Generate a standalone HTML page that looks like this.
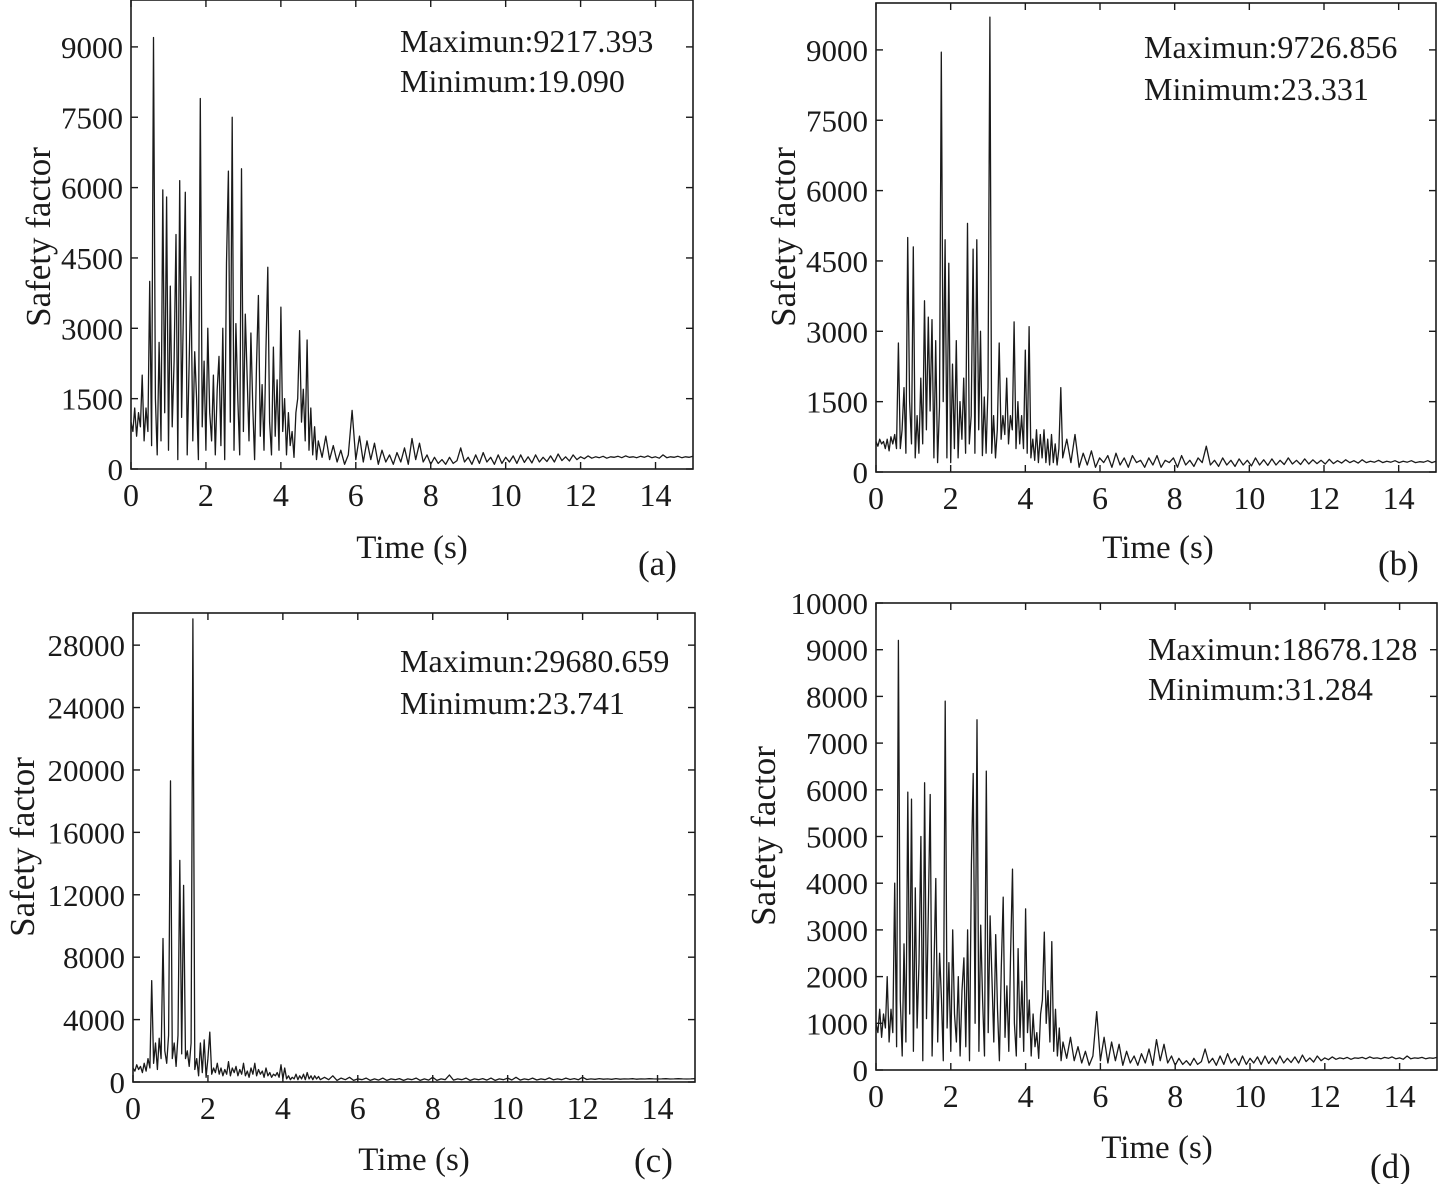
<!DOCTYPE html>
<html><head><meta charset="utf-8"><style>
body{margin:0;background:#fff}
svg{display:block}
text{font-family:"Liberation Serif",serif;fill:#1a1a1a}
</style></head><body>
<svg id="fig" width="1440" height="1184" viewBox="0 0 1440 1184"></svg>
<script>
// First 101 values: time 0..5 s at 0.05 s; remaining values spread evenly over 5..15 s
const valuesA = [1000,800,1300,700,1200,900,2000,600,1300,800,4000,500,9200,1500,300,2700,600,5950,1200,5800,400,3900,900,2300,5000,200,6150,1100,3500,5900,300,2200,4100,600,2500,1500,200,7900,900,2300,400,3000,1200,600,2000,300,1700,2400,500,3000,200,4400,6350,1000,7500,400,3100,1500,300,6400,800,3300,2000,600,2900,1300,200,2200,3700,700,1800,400,2500,4300,1000,300,2600,700,1900,400,3450,800,1500,300,1200,500,800,250,1200,1500,2950,1000,1700,600,2750,400,1300,300,900,200,600,
250,700,200,500,150,400,100,300,1250,200,700,150,600,200,550,100,400,150,300,100,350,150,450,100,650,200,550,150,300,100,250,120,200,100,250,120,180,450,150,250,100,300,120,350,150,250,100,300,120,250,150,280,120,300,140,260,130,300,150,250,160,280,150,320,180,260,170,300,200,260,220,280,230,260,240,270,230,260,250,270,240,280,250,260,240,270,250,280,240,260,230,300,240,260,250,270,240,260,250,270];
const valuesB = [650,550,700,600,650,500,700,450,750,600,800,500,2750,500,900,1800,400,5000,1500,600,4800,300,1200,400,2000,600,3650,900,3300,1300,3250,300,2800,200,1400,8950,1500,4950,300,4450,200,2300,500,2800,300,1500,700,2000,400,5300,600,1200,4750,400,4950,900,3000,350,1600,400,1800,9700,400,1200,300,900,2750,700,1200,800,2000,600,1200,900,3200,500,1500,600,1200,500,2600,400,3100,300,700,250,900,200,800,300,900,200,700,150,800,200,600,150,500,1800,300,
700,200,800,100,400,150,450,100,300,200,350,100,400,150,300,100,350,200,250,100,300,150,350,100,250,200,300,100,350,150,250,120,300,200,550,150,250,120,300,150,250,120,280,150,250,130,300,150,260,140,280,150,250,160,300,170,250,160,280,170,260,180,250,170,270,180,240,190,260,200,240,190,260,200,230,210,250,200,230,210,240,200,230,210,240,200,220,210,240,200,230];
const valuesC = [900,700,1100,800,1000,600,1200,700,1500,900,6500,1200,2500,800,2800,1500,9200,2000,1200,3000,19300,1500,2500,1000,3000,14200,1800,12600,1500,2000,1000,2500,29680,800,1500,400,2500,600,2700,300,1500,3200,500,900,600,1200,500,900,400,800,500,1300,400,900,600,1000,400,800,500,1200,400,700,300,900,500,1200,400,800,500,700,300,900,400,600,300,500,400,600,300,1100,200,900,200,400,150,300,200,500,150,400,200,500,150,600,200,400,150,400,200,350,150,
300,150,400,100,250,150,300,100,200,150,250,100,200,120,250,100,200,150,220,100,200,150,250,100,200,120,300,100,200,150,450,120,200,150,250,100,200,150,220,120,250,100,200,150,250,130,300,120,200,150,250,130,200,150,260,140,200,150,250,160,220,150,300,160,200,170,220,180,200,170,220,180,200,190,210,180,200,190,210,200,190,200,210,190,200,210,200,190,200,210];
const valuesD = valuesA.slice();
const yTicksA = [0,1500,3000,4500,6000,7500,9000];
const yTicksC = [0,4000,8000,12000,16000,20000,24000,28000];
const yTicksD = [0,1000,2000,3000,4000,5000,6000,7000,8000,9000,10000];
const xTicks = [0,2,4,6,8,10,12,14];

const NS = "http://www.w3.org/2000/svg";
const svg = document.getElementById('fig');
function mk(tag, attrs, parent){const e=document.createElementNS(NS,tag);for(const k in attrs)e.setAttribute(k,attrs[k]);(parent||svg).appendChild(e);return e;}
function timeAt(i,n){return i<=100 ? i*0.05 : 5+(i-100)*10/Math.max(1,n-101);}

const panels = [
 {id:'a',L:131,T:0,R:693,B:469,ymax:10000,yt:yTicksA,vals:valuesA,ylx:38,yly:237,txc:412,txb:558,lab:[638,575],ann:[400,52,92],mx:'Maximun:9217.393',mn:'Minimum:19.090'},
 {id:'b',L:876,T:3,R:1436,B:472,ymax:10000,yt:yTicksA,vals:valuesB,ylx:783,yly:237,txc:1158,txb:558,lab:[1378,575],ann:[1144,58,100],mx:'Maximun:9726.856',mn:'Minimum:23.331'},
 {id:'c',L:133,T:613,R:695,B:1082,ymax:30060,yt:yTicksC,vals:valuesC,ylx:22,yly:847,txc:414,txb:1170,lab:[634,1172],ann:[400,672,714],mx:'Maximun:29680.659',mn:'Minimum:23.741'},
 {id:'d',L:876,T:603,R:1437,B:1070,ymax:10000,yt:yTicksD,vals:valuesD,ylx:763,yly:836,txc:1157,txb:1158,lab:[1370,1178],ann:[1148,660,700],mx:'Maximun:18678.128',mn:'Minimum:31.284'}
];

panels.forEach(p=>{
  const g = mk('g',{});
  
  
  const xs = t => p.L + t/15*(p.R-p.L);
  const ys = v => p.B - v/p.ymax*(p.B-p.T);
  const n = p.vals.length;
  let d='';
  p.vals.forEach((v,i)=>{d+=(i?'L':'M')+xs(timeAt(i,n)).toFixed(1)+' '+ys(v).toFixed(1);});
  const line = mk('path',{d:d,fill:'none',stroke:'#1a1a1a','stroke-width':1.3,'stroke-linejoin':'round'},g);
  
  
  const fr = mk('rect',{x:p.L,y:p.T,width:p.R-p.L,height:p.B-p.T,fill:'none',stroke:'#1a1a1a','stroke-width':1.6},g);
  
  
  xTicks.forEach(t=>{
    const x=xs(t);
    mk('line',{x1:x,y1:p.B,x2:x,y2:p.B-7,stroke:'#1a1a1a','stroke-width':1.4},g);
    mk('line',{x1:x,y1:p.T,x2:x,y2:p.T+7,stroke:'#1a1a1a','stroke-width':1.4},g);
    const tx = mk('text',{x:x,y:p.B+37,'font-size':32,'text-anchor':'middle'},g);
    tx.textContent=t;
    
    
  });
  p.yt.forEach(v=>{
    const y=ys(v);
    mk('line',{x1:p.L,y1:y,x2:p.L+7,y2:y,stroke:'#1a1a1a','stroke-width':1.4},g);
    mk('line',{x1:p.R,y1:y,x2:p.R-7,y2:y,stroke:'#1a1a1a','stroke-width':1.4},g);
    const ty = mk('text',{x:p.L-8,y:y+11,'font-size':31,'text-anchor':'end'},g);
    ty.textContent=v;
    
    
  });
  const yl = mk('text',{x:0,y:0,'font-size':35,'text-anchor':'middle',transform:`translate(${p.ylx+12},${p.yly}) rotate(-90)`},g);
  yl.textContent='Safety factor';
  
  
  const xl = mk('text',{x:p.txc,y:p.txb,'font-size':33,'text-anchor':'middle'},g);
  xl.textContent='Time (s)';
  
  
  const lb = mk('text',{x:p.lab[0],y:p.lab[1],'font-size':35},g);
  lb.textContent='('+p.id+')';
  
  
  const a1 = mk('text',{x:p.ann[0],y:p.ann[1],'font-size':32},g);
  a1.textContent=p.mx;
  
  
  const a2 = mk('text',{x:p.ann[0],y:p.ann[2],'font-size':32},g);
  a2.textContent=p.mn;
  
  
});
</script>
</body></html>
